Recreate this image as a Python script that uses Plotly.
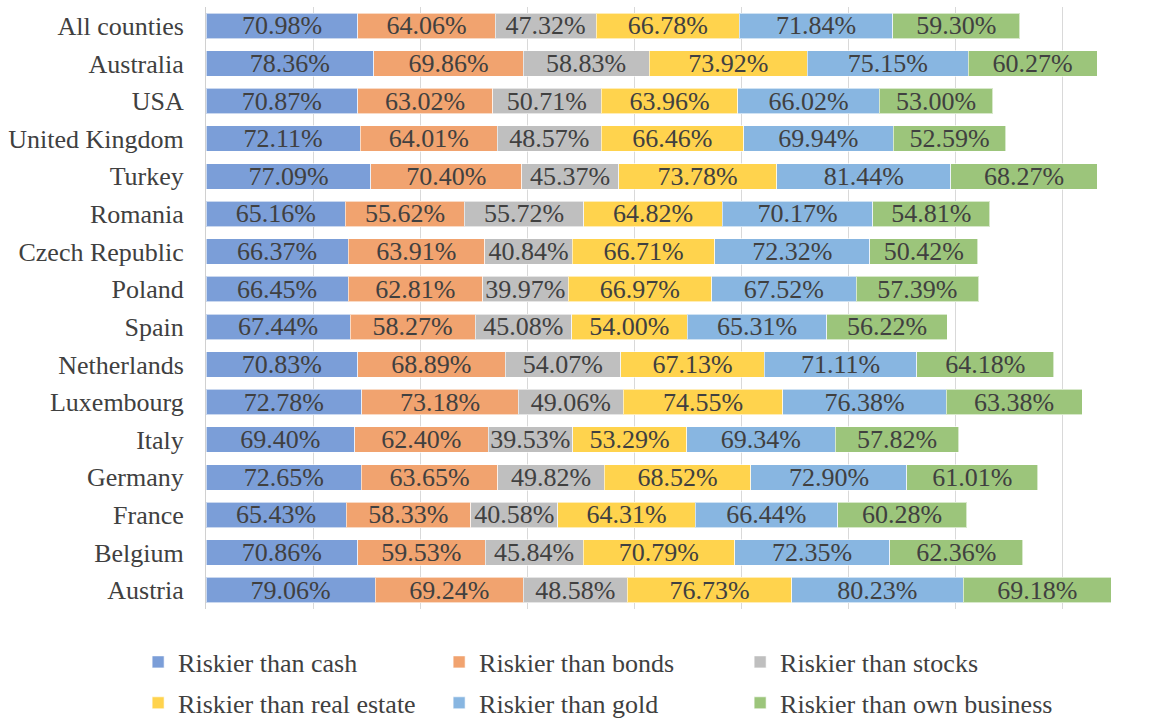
import plotly.graph_objects as go

countries = ["All counties", "Australia", "USA", "United Kingdom", "Turkey", "Romania",
             "Czech Republic", "Poland", "Spain", "Netherlands", "Luxembourg", "Italy",
             "Germany", "France", "Belgium", "Austria"]

cash = [70.98, 78.36, 70.87, 72.11, 77.09, 65.16, 66.37, 66.45, 67.44, 70.83, 72.78, 69.40, 72.65, 65.43, 70.86, 79.06]
bonds = [64.06, 69.86, 63.02, 64.01, 70.40, 55.62, 63.91, 62.81, 58.27, 68.89, 73.18, 62.40, 63.65, 58.33, 59.53, 69.24]
stocks = [47.32, 58.83, 50.71, 48.57, 45.37, 55.72, 40.84, 39.97, 45.08, 54.07, 49.06, 39.53, 49.82, 40.58, 45.84, 48.58]
real_estate = [66.78, 73.92, 63.96, 66.46, 73.78, 64.82, 66.71, 66.97, 54.00, 67.13, 74.55, 53.29, 68.52, 64.31, 70.79, 76.73]
gold = [71.84, 75.15, 66.02, 69.94, 81.44, 70.17, 72.32, 67.52, 65.31, 71.11, 76.38, 69.34, 72.90, 66.44, 72.35, 80.23]
own_business = [59.30, 60.27, 53.00, 52.59, 68.27, 54.81, 50.42, 57.39, 56.22, 64.18, 63.38, 57.82, 61.01, 60.28, 62.36, 69.18]

series_names = ["Riskier than cash", "Riskier than bonds", "Riskier than stocks",
                "Riskier than real estate", "Riskier than gold", "Riskier than own business"]
series_values = [cash, bonds, stocks, real_estate, gold, own_business]
colors = ["#7B9ED8", "#F1A36F", "#BFBFBF", "#FFD34D", "#88B6E1", "#9CC57B"]
legend_ids = ["legend", "legend", "legend", "legend2", "legend2", "legend3"]

FONT = "Times New Roman, Liberation Serif, serif"
TXT = "#404040"
FS = 26

fig = go.Figure()
for name, vals, col, lg in zip(series_names, series_values, colors, legend_ids):
    fig.add_trace(go.Bar(
        y=countries, x=vals, name=name, orientation="h",
        marker=dict(color=col, line=dict(color="rgba(255,255,255,0.6)", width=1)),
        texttemplate="%{x:.2f}%", textposition="inside", insidetextanchor="middle",
        textangle=0, textfont=dict(family=FONT, size=FS, color=TXT),
        insidetextfont=dict(family=FONT, size=FS, color=TXT),
        hoverinfo="x+y+name",
        legend=lg,
    ))

leg_common = dict(orientation="h", xanchor="left", yanchor="middle",
                  entrywidth=256, entrywidthmode="pixels", itemwidth=30,
                  font=dict(family=FONT, size=FS, color=TXT),
                  traceorder="normal", bgcolor="rgba(0,0,0,0)")
leg_x = -0.071
col_step = 301 / 956.0

fig.update_layout(
    barmode="stack", bargap=0.32,
    width=1162, height=719,
    margin=dict(l=206, r=0, t=7, b=110, autoexpand=False),
    paper_bgcolor="white", plot_bgcolor="white",
    font=dict(family=FONT, size=FS, color=TXT),
    uniformtext=dict(minsize=FS, mode="show"),
    xaxis=dict(range=[0, 446.7], dtick=50, showgrid=True, gridcolor="#D9D9D9", gridwidth=1,
               showticklabels=False, zeroline=False, showline=False, ticks=""),
    yaxis=dict(autorange="reversed", showline=True, linecolor="#D0D0D0", linewidth=1,
               ticks="", ticklabelstandoff=16, tickfont=dict(family=FONT, size=FS, color=TXT),
               showgrid=False),
    legend=dict(x=leg_x, y=-0.088, **leg_common),
    legend2=dict(x=leg_x, y=-0.156, **leg_common),
    legend3=dict(x=leg_x + 2 * col_step, y=-0.156,
                 **{**leg_common, "entrywidth": 290}),
)

fig.write_html("out.html", config={"displayModeBar": False},
               post_script="document.body.style.margin='0px';")
